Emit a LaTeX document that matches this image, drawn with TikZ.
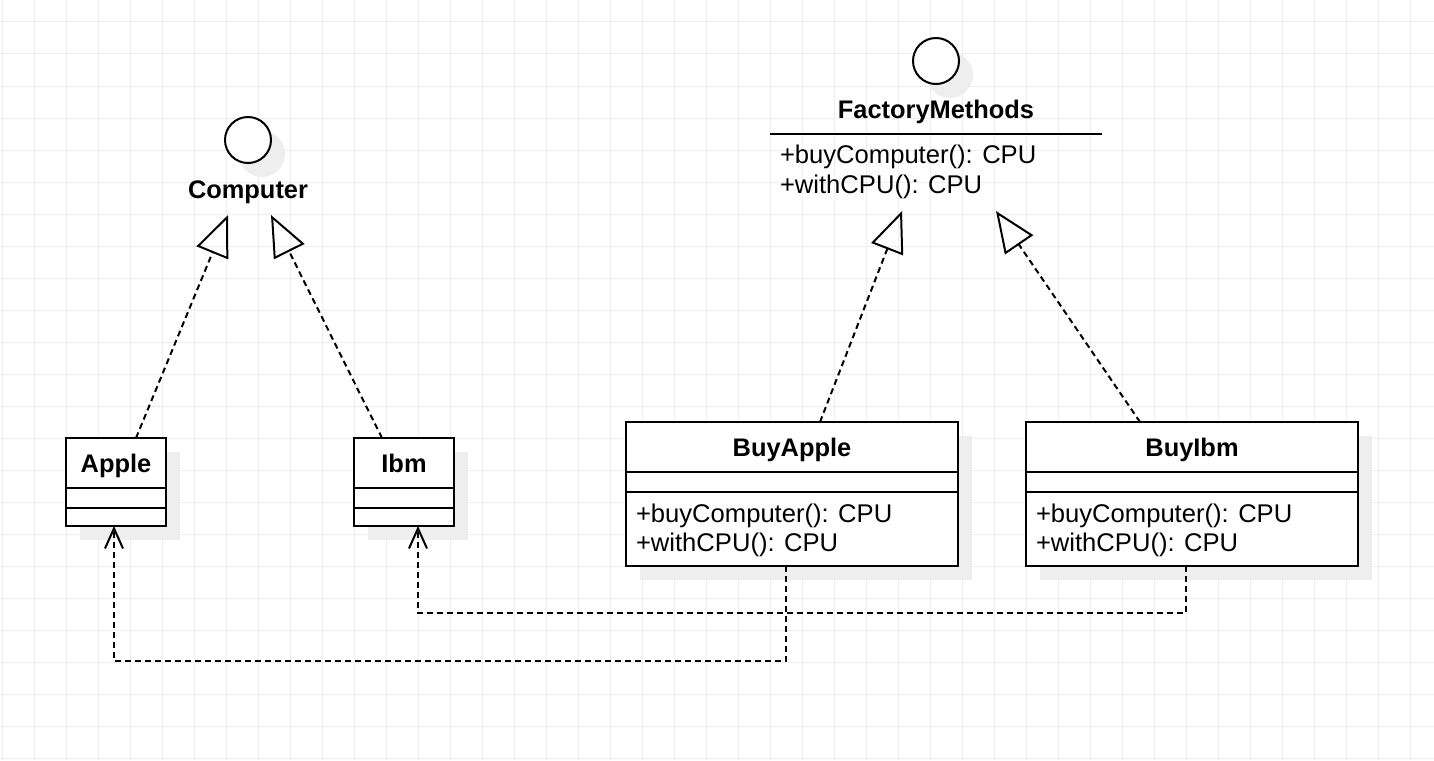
\documentclass[tikz,border=0pt]{standalone}
\usepackage{fontspec}
\setmainfont{Liberation Sans}
\usetikzlibrary{arrows.meta,shadows}
\definecolor{gridc}{RGB}{238,238,238}
\definecolor{shadc}{RGB}{238,238,238}
\begin{document}
\begin{tikzpicture}[x=1pt,y=-1pt,
  every node/.style={font=\fontsize{25.6}{30}\selectfont, inner sep=0pt, outer sep=0pt},
  shad/.style={drop shadow={shadow xshift=14pt, shadow yshift=-14pt, fill=shadc, opacity=1}},
  classbox/.style={draw, line width=2pt, fill=white, shad, anchor=north west},
  ifcircle/.style={circle, draw, line width=2pt, fill=white, minimum size=46pt, shad},
  title/.style={font=\fontsize{25.4}{30}\selectfont\bfseries, anchor=base},
  member/.style={anchor=base west},
  sep/.style={line width=2pt},
  real/.style={line width=2pt, dash pattern=on 6pt off 4pt, -{Triangle[open,length=41pt,width=34pt]}},
  dep/.style={line width=2pt, dash pattern=on 6pt off 4pt, -{Straight Barb[length=20pt,width=18pt]}}
]
\useasboundingbox (0,0) rectangle (1434,760);
\fill[white] (0,0) rectangle (1434,760);
% grid
\foreach \gx in {2,34,...,1434} \draw[gridc, line width=1pt] (\gx,0) -- (\gx,760);
\foreach \gy in {22,54,...,760} \draw[gridc, line width=1pt] (0,\gy) -- (1434,\gy);

% Computer interface
\node[ifcircle] (computer) at (248,140) {};
\node[title] (computerl) at (248,198) {Computer};
\coordinate (compL) at (228,215);
\coordinate (compR) at (271,215);

% FactoryMethods interface
\node[ifcircle] (factory) at (936,61) {};
\node[title] (factoryl) at (936,118) {FactoryMethods};
\draw[sep] (770,134) coordinate (fmrulel) -- (1102,134) coordinate (fmruler);
\node[member] (fm1) at (780,163) {+buyComputer(): CPU};
\node[member] (fm2) at (780,193) {+withCPU(): CPU};
\coordinate (fmL) at (902,211);
\coordinate (fmR) at (996,211);

% Apple
\node[classbox, minimum width=100pt, minimum height=88pt] (apple) at (66,438) {};
\node[title] (applet) at (116,472) {Apple};
\draw[sep] ([yshift=-50pt]apple.north west) -- ([yshift=-50pt]apple.north east);
\draw[sep] ([yshift=-70pt]apple.north west) -- ([yshift=-70pt]apple.north east);

% Ibm
\node[classbox, minimum width=100pt, minimum height=88pt] (ibm) at (354,438) {};
\node[title] (ibmt) at (404,472) {Ibm};
\draw[sep] ([yshift=-50pt]ibm.north west) -- ([yshift=-50pt]ibm.north east);
\draw[sep] ([yshift=-70pt]ibm.north west) -- ([yshift=-70pt]ibm.north east);

% BuyApple
\node[classbox, minimum width=332pt, minimum height=144pt] (buyapple) at (626,422) {};
\node[title] (buyapplet) at (792,456) {BuyApple};
\draw[sep] ([yshift=-50pt]buyapple.north west) -- ([yshift=-50pt]buyapple.north east);
\draw[sep] ([yshift=-70pt]buyapple.north west) -- ([yshift=-70pt]buyapple.north east);
\node[member] (ba1) at (636,522) {+buyComputer(): CPU};
\node[member] (ba2) at (636,551) {+withCPU(): CPU};

% BuyIbm
\node[classbox, minimum width=332pt, minimum height=144pt] (buyibm) at (1026,422) {};
\node[title] (buyibmt) at (1192,456) {BuyIbm};
\draw[sep] ([yshift=-50pt]buyibm.north west) -- ([yshift=-50pt]buyibm.north east);
\draw[sep] ([yshift=-70pt]buyibm.north west) -- ([yshift=-70pt]buyibm.north east);
\node[member] (bi1) at (1036,522) {+buyComputer(): CPU};
\node[member] (bi2) at (1036,551) {+withCPU(): CPU};

% realizations
\draw[real] ([xshift=20pt]apple.north) -- (compL);
\draw[real] ([xshift=-22pt]ibm.north) -- (compR);
\draw[real] ([xshift=28pt]buyapple.north) -- (fmL);
\draw[real] ([xshift=-52pt]buyibm.north) -- (fmR);

% dependencies
\draw[dep] ([xshift=-6pt]buyibm.south) -- ++(0,47) -| ([xshift=14pt]ibm.south);
\draw[dep] ([xshift=-6pt]buyapple.south) -- ++(0,95) -| ([xshift=-2pt]apple.south);
\end{tikzpicture}
\end{document}
